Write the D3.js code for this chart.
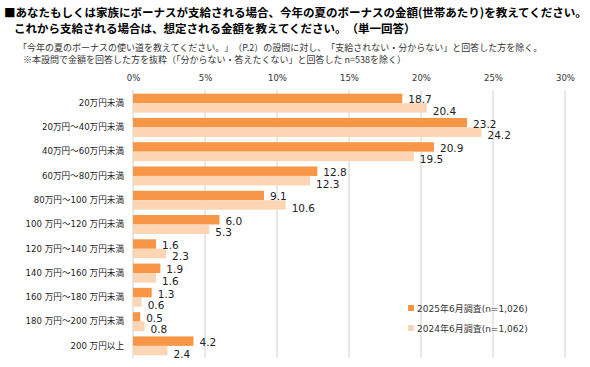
<!DOCTYPE html>
<html><head><meta charset="utf-8">
<script src="https://cdn.jsdelivr.net/npm/d3@7"></script>
<style>
body{margin:0;background:#fff;}
text{font-family:"DejaVu Sans","Noto Sans CJK JP",sans-serif;}
text.wide{text-spacing-trim:space-all;}
</style></head>
<body><svg id="c" width="590" height="367"></svg>
<script>
const categories = ["20万円未満","20万円～40万円未満","40万円～60万円未満","60万円～80万円未満","80万円～100 万円未満","100 万円～120 万円未満","120 万円～140 万円未満","140 万円～160 万円未満","160 万円～180 万円未満","180 万円～200 万円未満","200 万円以上"];
const series2025 = [18.7,23.2,20.9,12.8,9.1,6.0,1.6,1.9,1.3,0.5,4.2];
const series2024 = [20.4,24.2,19.5,12.3,10.6,5.3,2.3,1.6,0.6,0.8,2.4];
const seriesNames = ["2025年6月調査(n=1,026)","2024年6月調査(n=1,062)"];
const tickValues = [0,5,10,15,20,25,30];
const colors = ["#F79646","#FCD5B5"];

const svg = d3.select("#c");
const jp = "'Noto Sans CJK JP',sans-serif";

// Title
svg.append("text").attr("class","wide").attr("x",4).attr("y",17).attr("font-size",11.5).attr("font-weight","bold").style("font-family",jp).attr("fill","#000")
  .text("■あなたもしくは家族にボーナスが支給される場合、今年の夏のボーナスの金額(世帯あたり)を教えてください。");
svg.append("text").attr("class","wide").attr("x",14).attr("y",33).attr("font-size",11.5).attr("font-weight","bold").style("font-family",jp).attr("fill","#000")
  .text("これから支給される場合は、想定される金額を教えてください。（単一回答）");
svg.append("text").attr("class","wide").attr("x",18).attr("y",50.5).attr("font-size",9).style("font-family",jp).attr("fill","#333")
  .text("「今年の夏のボーナスの使い道を教えてください。」（P.2）の設問に対し、「支給されない・分からない」と回答した方を除く。");
svg.append("text").attr("x",23).attr("y",62.5).attr("font-size",9).style("font-family",jp).attr("fill","#333")
  .text("※本設問で金額を回答した方を抜粋（「分からない・答えたくない」と回答した n=538を除く）");

const x = d3.scaleLinear().domain([0,30]).range([133,565]);
const y = d3.scaleBand().domain(categories).range([91,358]).paddingInner(0.22).paddingOuter(0.11);
const sub = d3.scaleBand().domain([0,1]).range([0,y.bandwidth()]);

// gridlines
svg.append("g").selectAll("line").data(tickValues).join("line")
  .attr("x1",d=>x(d)).attr("x2",d=>x(d)).attr("y1",90).attr("y2",358)
  .attr("stroke","#d0d0d0").attr("stroke-width",1);

// axis labels
const ax = svg.append("g").attr("transform","translate(0,84)").call(d3.axisTop(x).tickValues(tickValues).tickFormat(d=>d+"%").tickSize(0));
ax.select(".domain").remove();
ax.selectAll("text").attr("font-size",8.5).attr("fill","#333").style("font-family","'DejaVu Sans',sans-serif");

// category labels
const ay = svg.append("g").attr("transform","translate(127,0)").call(d3.axisLeft(y).tickSize(0));
ay.select(".domain").remove();
ay.selectAll("text").attr("font-size",8.6).attr("fill","#222").attr("dx",0);

const data = categories.map((c,i)=>({c, v:[series2025[i],series2024[i]]}));
const g = svg.append("g").selectAll("g").data(data).join("g").attr("transform",d=>`translate(0,${y(d.c)})`);
g.selectAll("rect").data(d=>d.v).join("rect")
  .attr("x",x(0)).attr("y",(d,i)=>sub(i)).attr("width",d=>x(d)-x(0)).attr("height",sub.bandwidth())
  .attr("fill",(d,i)=>colors[i]);
g.selectAll("text.v").data(d=>d.v).join("text").attr("class","v")
  .attr("x",d=>x(d)+6).attr("y",(d,i)=>sub(i)+sub.bandwidth()/2+(i===0?5:7))
  .attr("font-size",10.5).attr("fill","#222").style("font-family","'DejaVu Sans',sans-serif")
  .text(d=>d.toFixed(1));

// legend
const lg = svg.append("g").selectAll("g").data(seriesNames).join("g").attr("transform",(d,i)=>`translate(408,${305+i*20})`);
lg.append("rect").attr("width",6).attr("height",6).attr("fill",(d,i)=>colors[i]);
lg.append("text").attr("x",9).attr("y",7).attr("font-size",9).attr("fill","#333").text(d=>d);
</script></body></html>
